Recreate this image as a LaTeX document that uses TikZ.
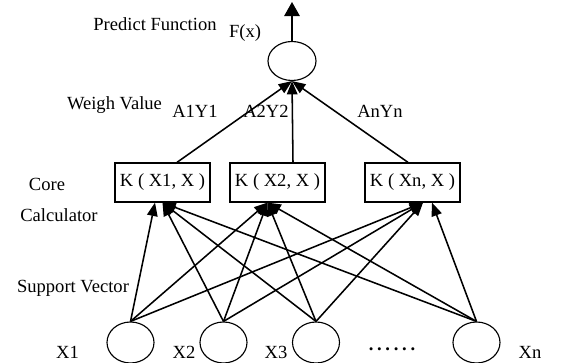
\documentclass[tikz,border=0pt]{standalone}
\usepackage{fontspec}
\setmainfont{Liberation Serif}
\usetikzlibrary{arrows,arrows.meta,shapes.geometric}

\begin{document}
\begin{tikzpicture}[
lbl/.style={font=\fontsize{13.2pt}{15pt}\selectfont,inner sep=0pt,anchor=base},
unit/.style={ellipse,draw,line width=0.8pt,minimum width=1.175cm,minimum height=1.025cm,inner sep=0pt},
kernel/.style={draw,line width=0.9pt,minimum width=2.375cm,minimum height=0.975cm,inner sep=0pt,font=\fontsize{13.2pt}{15pt}\selectfont},
arrow/.style={-{Triangle[length=9.5pt,width=7.5pt]},line width=1.1pt},
outarrow/.style={-{Triangle[length=10pt,width=11pt]},line width=1.1pt} ]

\useasboundingbox (0,0) rectangle (14.425,9.075);

\node[unit,minimum width=1.2cm,minimum height=0.975cm] (F) at (7.3,7.55) {};

\coordinate (top) at (7.3,9.025);

\draw[outarrow] (F.north) -- (top);

\node[kernel] (K1) at (4.0625,4.5125) {K ( X1, X )};

\node[kernel] (K2) at (6.9375,4.5125) {K ( X2, X )};

\node[kernel] (Kn) at (10.3125,4.5125) {K ( Xn, X )};

\draw[arrow] ([xshift=0.3625cm]K1.north) -- (F.south);

\draw[arrow] ([xshift=0.3875cm]K2.north) -- (F.south);

\draw[arrow] ([xshift=-0.1125cm]Kn.north) -- (F.south);

\node[unit] (X1) at (3.2625,0.5125) {};

\node[unit] (X2) at (5.5875,0.5125) {};

\node[unit] (X3) at (7.9,0.5125) {};

\node[unit] (Xn) at (11.9125,0.5125) {};

\draw[arrow] (X1.north) -- ([xshift=-0.1875cm]K1.south);

\draw[arrow] (X2.north) -- (K1.south);

\draw[arrow] (X3.north) -- (K1.south);

\draw[arrow] (Xn.north) -- (K1.south);

\draw[arrow] (X1.north) -- ([xshift=-0.25cm]K2.south);

\draw[arrow] (X2.north) -- ([xshift=-0.25cm]K2.south);

\draw[arrow] (X3.north) -- ([xshift=-0.25cm]K2.south);

\draw[arrow] (Xn.north) -- ([xshift=-0.25cm]K2.south);

\draw[arrow] (X1.north) -- ([xshift=0.2625cm]Kn.south);

\draw[arrow] (X2.north) -- ([xshift=0.2625cm]Kn.south);

\draw[arrow] (X3.north) -- ([xshift=0.2625cm]Kn.south);

\draw[arrow] (Xn.north) -- ([xshift=0.4875cm]Kn.south);

\node[lbl] (predict) at (3.875,8.3) {Predict Function};

\node[lbl] (fx) at (6.125,8.1375) {F(x)};

\node[lbl] (weigh) at (2.8625,6.325) {Weigh Value};

\node[lbl] (a1) at (4.875,6.125) {A1Y1};

\node[lbl] (a2) at (6.65,6.125) {A2Y2};

\node[lbl] (an) at (9.5,6.125) {AnYn};

\node[lbl] (core) at (1.175,4.3) {Core};

\node[lbl] (calc) at (1.475,3.53) {Calculator};

\node[lbl] (support) at (1.825,1.765) {Support Vector};

\node[lbl] (l1) at (1.6875,0.1) {X1};

\node[lbl] (l2) at (4.6,0.1) {X2};

\node[lbl] (l3) at (6.9,0.1) {X3};

\node[lbl] (ln) at (13.25,0.1) {Xn};

\node[lbl] (dots) at (9.8,0.3) {\textbf{.\hspace{0.2em}.\hspace{0.2em}.\hspace{0.2em}.\hspace{0.2em}.\hspace{0.2em}.}};

\end{tikzpicture}
\end{document}
